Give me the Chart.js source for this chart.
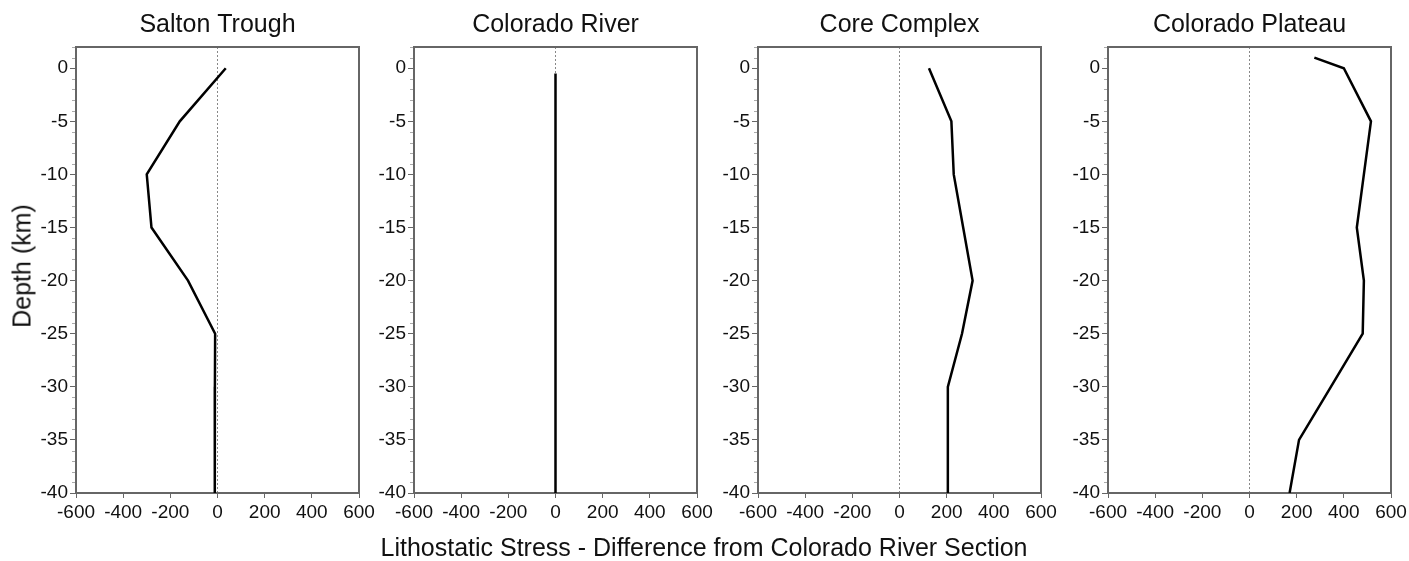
<!DOCTYPE html>
<html>
<head>
<meta charset="utf-8">
<script src="https://cdn.jsdelivr.net/npm/chart.js@4"></script>
<style>
  body { margin: 0; background: #fff; font-family: "Liberation Sans", Arial, sans-serif; }
  #wrap { position: relative; width: 1409px; height: 561px; overflow: hidden; }
  canvas { position: absolute; top: 0; }
  .ylab { position: absolute; left: 22px; top: 266px; transform: translate(-50%, -50%) rotate(-90deg);
          font-size: 25px; white-space: nowrap; color: #111; }
  .xlab { position: absolute; left: 704px; top: 547px; transform: translate(-50%, -50%);
          font-size: 25px; white-space: nowrap; color: #111; }
</style>
</head>
<body>
<div id="wrap">
  <canvas id="c0"></canvas>
  <canvas id="c1"></canvas>
  <canvas id="c2"></canvas>
  <canvas id="c3"></canvas>
  <div class="ylab">Depth (km)</div>
  <div class="xlab">Lithostatic Stress - Difference from Colorado River Section</div>
</div>
<script>
// panel titles
const panelTitles = ['Salton Trough', 'Colorado River', 'Core Complex', 'Colorado Plateau'];

// depth (km) and stress difference
const saltonDepth = [0, -5, -10, -15, -20, -25, -30, -35, -40];
const saltonStress = [35, -160, -300, -280, -125, -10, -11, -11, -12];

const riverDepth = [-0.5, -5, -10, -15, -20, -25, -30, -35, -40];
const riverStress = [0, 0, 0, 0, 0, 0, 0, 0, 0];

const coreDepth = [0, -5, -10, -15, -20, -25, -30, -35, -40];
const coreStress = [125, 220, 230, 270, 310, 265, 205, 205, 205];

const plateauDepth = [1, 0, -5, -10, -15, -20, -25, -30, -35, -40];
const plateauStress = [275, 400, 515, 485, 455, 485, 480, 345, 210, 170];

const xTicks = [-600, -400, -200, 0, 200, 400, 600];
const yTicks = [0, -5, -10, -15, -20, -25, -30, -35, -40];

const series = [
  [saltonDepth, saltonStress],
  [riverDepth, riverStress],
  [coreDepth, coreStress],
  [plateauDepth, plateauStress]
];

// chart area left edge of each panel in the page
const panelLeft = [76, 414, 758, 1108];
const AREA_W = 283;
const AXIS_W = 60;
const PAD_R = 25;

const FONT = '"Liberation Sans", Arial, sans-serif';

// frame around the plot + minor depth ticks every km
const framePlugin = {
  id: 'frame',
  beforeDatasetsDraw(chart) {
    const {ctx, chartArea: a} = chart;
    ctx.save();
    ctx.strokeStyle = '#666';
    ctx.lineWidth = 2;
    ctx.strokeRect(a.left, a.top, a.right - a.left, a.bottom - a.top);
    ctx.restore();
  },
  afterDraw(chart) {
    const {ctx, chartArea: a} = chart;
    const y = chart.scales.y;
    ctx.save();
    ctx.strokeStyle = '#aaa';
    ctx.lineWidth = 1;
    for (let v = Math.ceil(y.min); v <= y.max; v++) {
      if (v % 5 === 0) continue;
      const py = Math.round(y.getPixelForValue(v)) + 0.5;
      ctx.beginPath();
      ctx.moveTo(a.left - 4, py);
      ctx.lineTo(a.left - 1, py);
      ctx.stroke();
    }
    ctx.restore();
  }
};

function makePanel(i) {
  const canvas = document.getElementById('c' + i);
  canvas.width = AXIS_W + AREA_W + PAD_R;
  canvas.height = 533;
  canvas.style.left = (panelLeft[i] - AXIS_W) + 'px';

  const [depth, stress] = series[i];
  const points = depth.map((d, k) => ({x: stress[k], y: d}));

  new Chart(canvas, {
    type: 'scatter',
    data: {
      datasets: [{
        data: points,
        showLine: true,
        borderColor: '#000',
        borderWidth: 2.5,
        pointRadius: 0,
        fill: false
      }]
    },
    options: {
      responsive: false,
      animation: false,
      layout: { padding: { top: 0, right: PAD_R, bottom: 0, left: 0 } },
      plugins: {
        legend: { display: false },
        tooltip: { enabled: false },
        title: {
          display: true,
          text: panelTitles[i],
          fullSize: false,
          color: '#111',
          font: { family: FONT, size: 25, weight: 'normal' },
          padding: { top: 10, bottom: 7 }
        }
      },
      scales: {
        x: {
          type: 'linear',
          min: -600,
          max: 600,
          afterBuildTicks: s => { s.ticks = xTicks.map(v => ({value: v})); },
          afterFit: s => { s.height = 40; s.paddingLeft = 0; s.paddingRight = 0; },
          border: { display: false, dash: [2, 2] },
          grid: {
            drawOnChartArea: true,
            color: c => (c.tick && c.tick.value === 0) ? '#888' : 'rgba(0,0,0,0)',
            lineWidth: 1,
            tickColor: '#666',
            tickLength: 5
          },
          ticks: {
            color: '#111',
            padding: 3,
            maxRotation: 0,
            autoSkip: false,
            font: { family: FONT, size: 19 }
          }
        },
        y: {
          type: 'linear',
          min: -40,
          max: 2,
          afterBuildTicks: s => { s.ticks = yTicks.map(v => ({value: v})); },
          afterFit: s => { s.width = AXIS_W; s.paddingTop = 0; s.paddingBottom = 0; },
          border: { display: false },
          grid: {
            drawOnChartArea: false,
            tickColor: '#666',
            tickLength: 6
          },
          ticks: {
            color: '#111',
            padding: 2,
            autoSkip: false,
            font: { family: FONT, size: 19 }
          }
        }
      }
    },
    plugins: [framePlugin]
  });
}

for (let i = 0; i < 4; i++) makePanel(i);
</script>
</body>
</html>
